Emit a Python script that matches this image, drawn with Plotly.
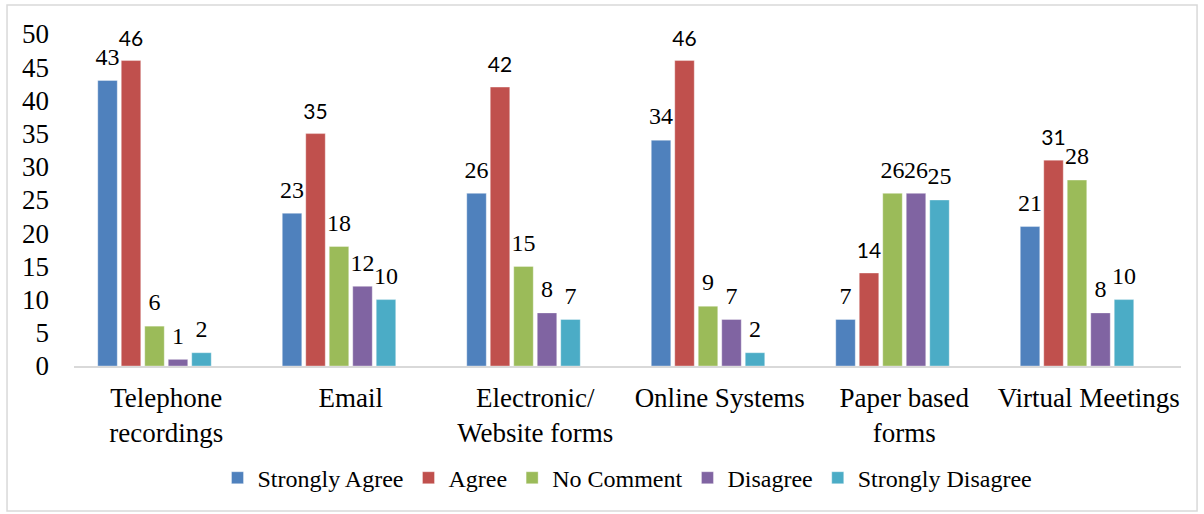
import plotly.graph_objects as go

# Survey responses by communication channel
categories = ["Telephone<br>recordings", "Email", "Electronic/<br>Website forms",
              "Online Systems", "Paper based<br>forms", "Virtual Meetings"]
series_names = ["Strongly Agree", "Agree", "No Comment", "Disagree", "Strongly Disagree"]
strongly_agree = [43, 23, 26, 34, 7, 21]
agree = [46, 35, 42, 46, 14, 31]
no_comment = [6, 18, 15, 9, 26, 28]
disagree = [1, 12, 8, 7, 26, 8]
strongly_disagree = [2, 10, 7, 2, 25, 10]
y_ticks = [0, 5, 10, 15, 20, 25, 30, 35, 40, 45, 50]

series_values = [strongly_agree, agree, no_comment, disagree, strongly_disagree]
colors = ["#4F81BD", "#C0504D", "#9BBB59", "#8064A2", "#4BACC6"]
serif = "'Liberation Serif', 'Times New Roman', Times, serif"
label_fonts = [serif, "Lato", serif, serif, serif]
label_sizes = [24, 21, 24, 24, 24]

fig = go.Figure()
for name, vals, col, lf, ls in zip(series_names, series_values, colors, label_fonts, label_sizes):
    fig.add_trace(go.Bar(
        x=categories, y=vals, name=name, offsetgroup=name,
        marker=dict(color=col, line=dict(color="rgba(255,255,255,0.35)", width=1)),
    ))
    # value labels sitting above each bar
    fig.add_trace(go.Scatter(
        x=categories, y=vals, offsetgroup=name, mode="markers+text",
        text=[str(v) for v in vals], textposition="top center",
        textfont=dict(family=lf, size=ls, color="#000000"),
        marker=dict(size=14, opacity=0), showlegend=False, hoverinfo="skip",
        cliponaxis=False,
    ))

# empty sixth slot of the cluster (unused series)
fig.add_trace(go.Bar(x=categories, y=[None] * len(categories), offsetgroup="blank",
                     showlegend=False, hoverinfo="skip"))

fig.update_layout(
    width=1204, height=514,
    margin=dict(l=74, r=23, t=34, b=148),
    paper_bgcolor="#FFFFFF", plot_bgcolor="#FFFFFF",
    barmode="group", scattermode="group",
    bargap=0.236, bargroupgap=0.17,
    font=dict(family=serif, color="#000000"),
    legend=dict(orientation="h", x=0.5, xanchor="center", y=-0.27, yanchor="top",
                font=dict(family=serif, size=24), traceorder="normal",
                itemwidth=30),
    showlegend=True,
)
fig.update_xaxes(
    type="category", showgrid=False, showline=True, linecolor="#D9D9D9", linewidth=1.5,
    tickfont=dict(family=serif, size=27), ticks="", ticklabelstandoff=7,
)
fig.update_yaxes(
    range=[0, 50], tickvals=y_ticks, showgrid=False, showline=False, zeroline=False,
    tickfont=dict(family=serif, size=27), ticks="", ticklabelstandoff=24,
)

# light chart border
fig.add_shape(type="rect", xref="paper", yref="paper",
              x0=-0.0605, x1=1.0145, y0=-0.437, y1=1.087,
              line=dict(color="#D9D9D9", width=1.5), fillcolor="rgba(0,0,0,0)", layer="below")

fig.write_html("out.html")
